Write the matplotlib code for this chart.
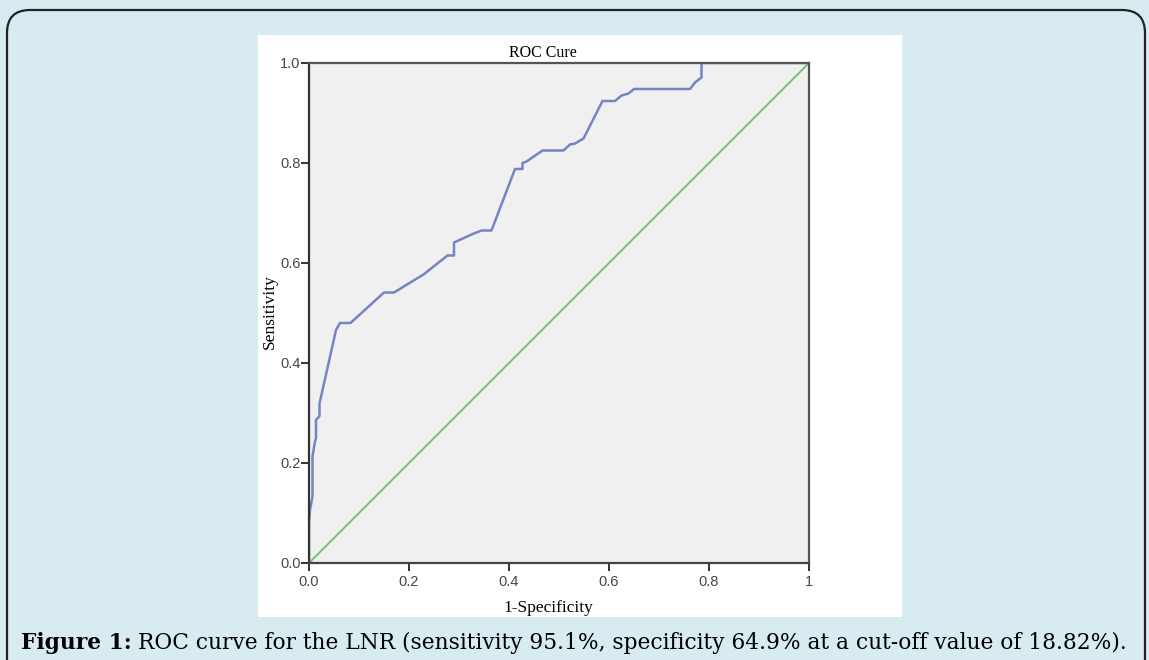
import matplotlib
matplotlib.use('Agg')
import matplotlib.pyplot as plt
from matplotlib.patches import FancyBboxPatch, Rectangle

# ROC points
fpr = [0.0, 0.0, 0.002, 0.007, 0.007, 0.012, 0.014, 0.014, 0.021, 0.021, 0.054, 0.062,
       0.083, 0.15, 0.17, 0.229, 0.277, 0.29, 0.29, 0.325, 0.345, 0.365, 0.412, 0.427,
       0.427, 0.435, 0.467, 0.509, 0.522, 0.532, 0.549, 0.587, 0.612, 0.625, 0.639,
       0.65, 0.762, 0.772, 0.785, 0.785, 1.0]
tpr = [0.0, 0.08, 0.106, 0.133, 0.213, 0.243, 0.25, 0.286, 0.294, 0.319, 0.466, 0.48,
       0.48, 0.541, 0.541, 0.577, 0.615, 0.615, 0.641, 0.657, 0.665, 0.665, 0.788, 0.788,
       0.80, 0.803, 0.825, 0.825, 0.837, 0.839, 0.849, 0.924, 0.924, 0.935, 0.939,
       0.948, 0.948, 0.961, 0.971, 1.0, 1.0]
ref_line = [0, 1]

xticks = [0.0, 0.2, 0.4, 0.6, 0.8, 1.0]
xtick_labels = ['0.0', '0.2', '0.4', '0.6', '0.8', '1']
yticks = [0.0, 0.2, 0.4, 0.6, 0.8, 1.0]
ytick_labels = ['0.0', '0.2', '0.4', '0.6', '0.8', '1.0']

W, H = 1149, 660
fig = plt.figure(figsize=(W / 100, H / 100), dpi=100)
fig.patch.set_facecolor('#d7ebf1')

# pixel coords (from top-left) -> figure fraction
def px(x, y):
    return x / W, 1 - y / H

frame = FancyBboxPatch(px(7, 700), 1138 / W, 690 / H,
                       boxstyle='round,pad=0,rounding_size=0.02',
                       transform=fig.transFigure, facecolor='none',
                       edgecolor='#222222', linewidth=1.6, mutation_aspect=W / H,
                       zorder=-2)
fig.patches.append(frame)
fig.patches.append(Rectangle(px(258, 617), 644 / W, 582 / H, transform=fig.transFigure,
                             facecolor='white', edgecolor='none', zorder=-1))

ax = fig.add_axes([309 / W, 1 - 563 / H, 500 / W, 500 / H])
ax.set_facecolor('#f0f0f0')
ax.plot(ref_line, ref_line, color='#6cc47a', linewidth=1.4)
ax.plot(fpr, tpr, color='#7584c2', linewidth=1.8)
ax.set_xlim(0, 1)
ax.set_ylim(0, 1)

for s in ax.spines.values():
    s.set_color('#555555')
    s.set_linewidth(1.6)
ax.spines['left'].set_color('#333333')
ax.spines['bottom'].set_color('#444444')

ax.set_xticks(xticks)
ax.set_xticklabels(xtick_labels)
ax.set_yticks(yticks)
ax.set_yticklabels(ytick_labels)
ax.tick_params(direction='out', length=5.5, width=1.4, color='#333333',
               labelsize=10.5, labelcolor='#464646')
ax.tick_params(axis='x', pad=3.5)
ax.tick_params(axis='y', pad=0.5)
for lab in ax.get_xticklabels() + ax.get_yticklabels():
    lab.set_family('Liberation Sans')

serif = 'Liberation Serif'
fig.text(*px(543, 57), 'ROC Cure', family=serif, fontsize=11.5,
         ha='center', va='baseline')
fig.text(*px(548, 608), '1-Specificity', family=serif, fontsize=12.5,
         ha='center', va='center')
fig.text(*px(270, 312), 'Sensitivity', family=serif, fontsize=12.5,
         ha='center', va='center', rotation=90)

# caption: bold "Figure 1:" then regular text
cap_y = 1 - 649 / H
t1 = fig.text(21 / W, cap_y, 'Figure 1:', family='DejaVu Serif', fontweight='bold',
              fontsize=15.7, va='baseline')
fig.canvas.draw()
bb = t1.get_window_extent()
fig.text((bb.x1 + 6) / W, cap_y,
         'ROC curve for the LNR (sensitivity 95.1%, specificity 64.9% at a cut-off value of 18.82%).',
         family='DejaVu Serif', fontsize=15.7, va='baseline')

fig.savefig('out.png', dpi=100)
